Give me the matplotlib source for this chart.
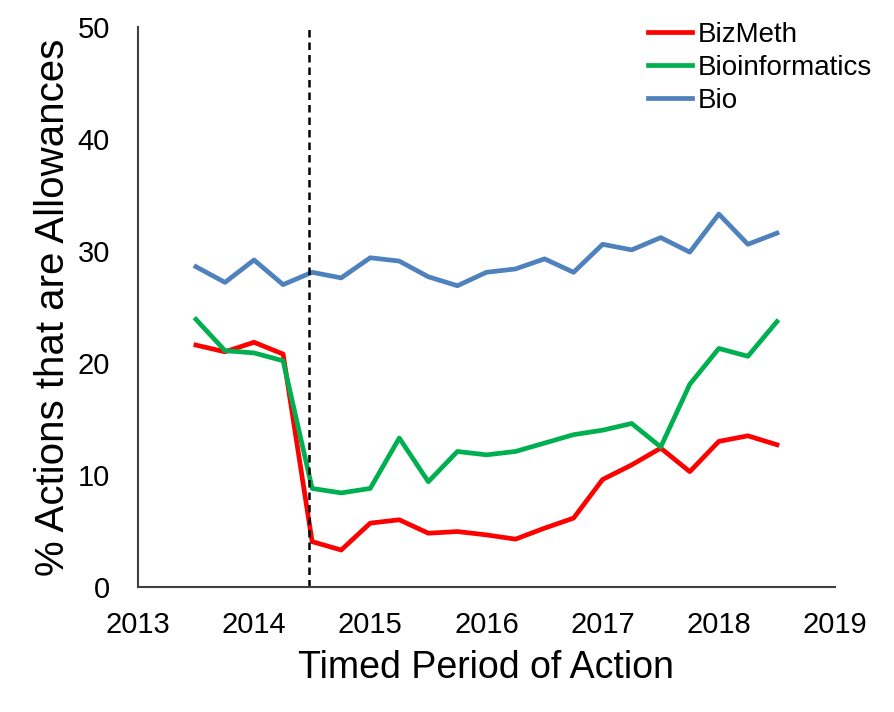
import matplotlib
matplotlib.use("Agg")
from matplotlib import pyplot as plt

plt.rcParams['font.family'] = ['Liberation Sans', 'DejaVu Sans']

# quarterly periods, mid-2013 to mid-2018
periods = [2013.5, 2013.75, 2014.0, 2014.25, 2014.5, 2014.75, 2015.0, 2015.25,
           2015.5, 2015.75, 2016.0, 2016.25, 2016.5, 2016.75, 2017.0, 2017.25,
           2017.5, 2017.75, 2018.0, 2018.25, 2018.5]

bizmeth = [21.6, 21.0, 21.85, 20.8, 4.05, 3.3, 5.7, 6.0, 4.8, 4.95, 4.65,
           4.27, 5.25, 6.15, 9.6, 10.9, 12.4, 10.3, 13.0, 13.5, 12.7]
bioinformatics = [23.9, 21.1, 20.9, 20.2, 8.8, 8.4, 8.8, 13.3, 9.4, 12.1, 11.8,
                  12.1, 12.85, 13.6, 14.0, 14.6, 12.5, 18.1, 21.3, 20.6, 23.7]
bio = [28.6, 27.2, 29.2, 27.0, 28.1, 27.6, 29.4, 29.1, 27.7, 26.9, 28.1,
       28.4, 29.3, 28.1, 30.6, 30.1, 31.2, 29.9, 33.3, 30.6, 31.6]

cutoff = 2014.47

fig = plt.figure(figsize=(8.95, 7.12), dpi=100)
ax = fig.add_axes([0.154, 0.1756, 0.779, 0.7864])

ax.plot(periods, bizmeth, color='#FF0000', lw=3.4, label='BizMeth')
ax.plot(periods, bioinformatics, color='#00B050', lw=3.4, label='Bioinformatics')
ax.plot(periods, bio, color='#4F81BD', lw=3.4, label='Bio')
ax.axvline(cutoff, color='black', ls=(0, (3, 2)), lw=1.8)

ax.set_xlim(2013, 2019)
ax.set_ylim(0, 50)
ax.set_xticks(range(2013, 2020))
ax.set_yticks(range(0, 51, 10))
ax.tick_params(length=0, labelsize=21)
ax.tick_params(axis='x', pad=17)
ax.tick_params(axis='y', pad=20)
for s in ['top', 'right']:
    ax.spines[s].set_visible(False)
for s in ['left', 'bottom']:
    ax.spines[s].set_color('#404040')
    ax.spines[s].set_linewidth(1.5)

ax.set_xlabel('Timed Period of Action', fontsize=27, labelpad=8)
ax.set_ylabel('% Actions that are Allowances', fontsize=29, labelpad=4)

fig.legend(loc='upper left', bbox_to_anchor=(648 / 895, 1 - 22 / 712),
           frameon=False, fontsize=20, handlelength=1.6, handletextpad=0.2,
           labelspacing=0.25, borderpad=0, borderaxespad=0)

fig.savefig('out.png', dpi=100)
